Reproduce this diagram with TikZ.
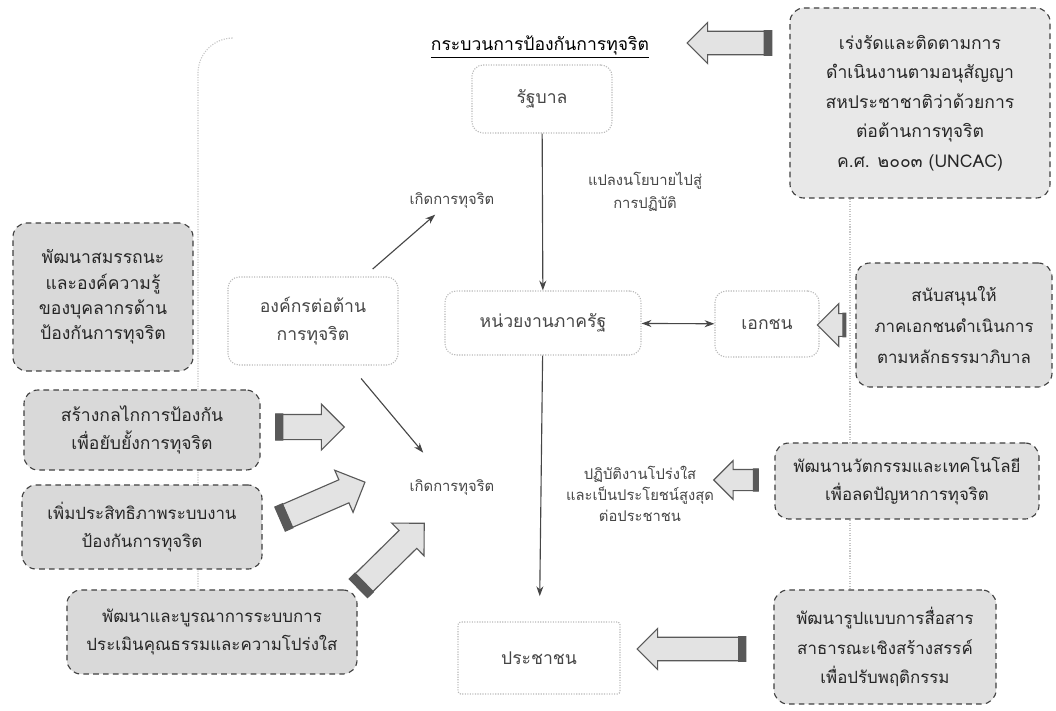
\documentclass[tikz,border=0pt]{standalone}
\usepackage{fontspec}
\newfontfamily\thaifont[Script=Thai]{Loma}
\usetikzlibrary{shapes.arrows,arrows.meta,backgrounds,calc}
\tikzset{
  graybox/.style={draw=black!75, thick, dash pattern=on 4pt off 3pt, fill=gray!30,
    rounded corners=10pt, align=center, text=black!85},
  whitebox/.style={draw=gray!55, densely dotted, thick, fill=white,
    rounded corners=8pt, align=center, text=gray!55!black},
  plainlabel/.style={align=center, text=gray!55!black,
    font=\thaifont\fontsize{10.5}{16}\selectfont},
  thinarrow/.style={-{Stealth[length=7pt,width=5pt]}, thick, draw=gray!55!black},
  frame/.style={draw=gray!45, densely dotted, thick},
  fatarrow/.style n args={3}{single arrow, draw=black!65, thick, fill=gray!22,
    minimum height=#1, inner xsep=0pt, inner ysep=#2, single arrow head extend=#3},
}
\begin{document}
\begin{tikzpicture}[x=0.025cm,y=-0.025cm,
    every node/.style={font=\thaifont\fontsize{12.5}{20}\selectfont}]
  \useasboundingbox (0,0) rectangle (1056,710);
  % process in the middle
  \node (A0_1) at (540,47) {\underline{กระบวนการป้องกันการทุจริต}};
  \node[whitebox, minimum width=3.5cm, minimum height=1.7cm] (A1_1) at (542,99) {รัฐบาล};
  \node[whitebox, minimum width=4.25cm, minimum height=2.2cm] (A2_0) at (313,321)
    {องค์กรต่อต้าน\\การทุจริต};
  \node[whitebox, minimum width=4.9cm, minimum height=1.6cm] (A2_1) at (543,323) {หน่วยงานภาครัฐ};
  \node[whitebox, minimum width=2.6cm, minimum height=1.65cm] (A2_2) at (767,324) {เอกชน};
  \node[whitebox, rounded corners=2pt, minimum width=4.05cm, minimum height=1.8cm] (A4_1) at (539,658) {ประชาชน};
  \node[plainlabel] (L1_0) at (452,200) {เกิดการทุจริต};
  \node[plainlabel] (L1_2) at (645,192) {แปลงนโยบายไปสู่\\การปฏิบัติ};
  \node[plainlabel] (L2_0) at (452,487) {เกิดการทุจริต};
  \node[plainlabel, font=\thaifont\fontsize{10.5}{15}\selectfont] (L2_1) at (640,494)
    {ปฏิบัติงานโปร่งใส\\และเป็นประโยชน์สูงสุด\\ต่อประชาชน};
  \path (A1_1) edge [thinarrow] (A2_1);
  \path (A2_1) edge [thinarrow, shorten >=18pt] (A4_1);
  \path (A2_1) edge [thinarrow, {Stealth[length=7pt,width=5pt]}-{Stealth[length=7pt,width=5pt]}] (A2_2);
  \path (A2_0) edge [thinarrow, shorten <=8pt, shorten >=2pt] (L1_0);
  \path (A2_0) edge [thinarrow, shorten <=12pt, shorten >=20pt] (L2_0);
  % measures on the left
  \node[graybox, minimum width=4.5cm, minimum height=3.7cm,
    font=\thaifont\fontsize{12.5}{18}\selectfont] (B0_0) at (103,297)
    {พัฒนาสมรรถนะ\\และองค์ความรู้\\ของบุคลากรด้าน\\ป้องกันการทุจริต};
  \node[graybox, minimum width=5.9cm, minimum height=2cm] (B1_0) at (142,430)
    {สร้างกลไกการป้องกัน\\เพื่อยับยั้งการทุจริต};
  \node[graybox, minimum width=6cm, minimum height=2.1cm,
    font=\thaifont\fontsize{12}{20}\selectfont] (B2_0) at (142,527)
    {เพิ่มประสิทธิภาพระบบงาน\\ป้องกันการทุจริต};
  \node[graybox, minimum width=7.25cm, minimum height=2.1cm,
    font=\thaifont\fontsize{12}{20}\selectfont] (B3_0) at (212,632)
    {พัฒนาและบูรณาการระบบการ\\ประเมินคุณธรรมและความโปร่งใส};
  \node[fatarrow={1.7cm}{0.3cm}{0.26cm}] (C1_0) at (304,427) {};
  \node[fatarrow={2.3cm}{0.3cm}{0.26cm}, rotate=23.5] (C2_0) at (317,503) {};
  \node[fatarrow={2.3cm}{0.3cm}{0.26cm}, rotate=44.6] (C3_0) at (387,560) {};
  % measures on the right
  \node[graybox, fill=gray!18, minimum width=6.5cm, minimum height=4.75cm,
    font=\thaifont\fontsize{12.5}{21}\selectfont] (A0_3) at (920,103)
    {เร่งรัดและติดตามการ\\ดำเนินงานตามอนุสัญญา\\สหประชาชาติว่าด้วยการ\\ต่อต้านการทุจริต\\ค.ศ. ๒๐๐๓ (UNCAC)};
  \node[graybox, fill=gray!24, minimum width=4.9cm, minimum height=3.1cm,
    font=\thaifont\fontsize{12}{22}\selectfont] (A2_3) at (954,325)
    {สนับสนุนให้\\ภาคเอกชนดำเนินการ\\ตามหลักธรรมาภิบาล};
  \node[graybox, fill=gray!24, minimum width=6.6cm, minimum height=1.9cm,
    font=\thaifont\fontsize{12}{20}\selectfont] (A3_2) at (907,481)
    {พัฒนานวัตกรรมและเทคโนโลยี\\เพื่อลดปัญหาการทุจริต};
  \node[graybox, fill=gray!24, minimum width=5.55cm, minimum height=2.85cm,
    font=\thaifont\fontsize{12}{21}\selectfont] (A4_3) at (885,647)
    {พัฒนารูปแบบการสื่อสาร\\สาธารณะเชิงสร้างสรรค์\\เพื่อปรับพฤติกรรม};
  \node[fatarrow={2.1cm}{0.28cm}{0.22cm}, rotate=180] (C0_2) at (735,43) {};
  \node[fatarrow={0.7cm}{0.27cm}{0.25cm}, rotate=180] (C2_3) at (837,325) {};
  \node[fatarrow={1.1cm}{0.25cm}{0.22cm}, rotate=180] (C3_2) at (741,480) {};
  \node[fatarrow={2.7cm}{0.28cm}{0.22cm}, rotate=180] (C4_2) at (697,649) {};
  % dark tail ends of the block arrows
  \foreach \c/\f in {C1_0/0.16, C2_0/0.12, C3_0/0.12, C0_2/0.12, C2_3/0.45, C3_2/0.2, C4_2/0.08}
    \filldraw[black!65, thick] (\c.before tail) -- (\c.after tail)
      -- ($(\c.after tail)!\f!(\c.before head)$)
      -- ($(\c.before tail)!\f!(\c.after head)$) -- cycle;
  % faint frame behind the boxes
  \begin{scope}[on background layer]
    \draw[frame, rounded corners=25pt] (B3_0.north -| 198,0) -- (198,38) -- (232,38);
    \draw[frame] (A0_3.south -| 850,0) -- (A4_3.north -| 850,0);
  \end{scope}
\end{tikzpicture}
\end{document}
